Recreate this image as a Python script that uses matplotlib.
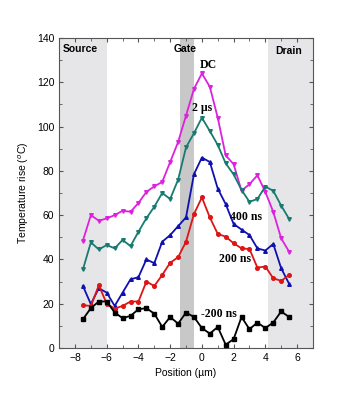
import numpy as np
import matplotlib.pyplot as plt
from matplotlib.ticker import MultipleLocator

'''Measured temperature rise along the channel for several pulse widths'''
position = np.arange(-7.5, 6.0, 0.5)          # um

dc = [48.5, 60, 57.5, 58.5, 60, 62, 61.5, 65.5, 70.5, 73, 75, 84, 93, 105,
      117, 124, 118, 104, 87, 83, 71, 74, 78, 70.5, 61.5, 49.5, 43.5]
t_2us = [35.5, 47.7, 44.5, 46.5, 45, 48.8, 46, 52.5, 58.6, 63.8, 70, 67.3, 76,
         90.6, 97, 104, 98, 91.7, 83.4, 78.4, 71.4, 66, 67.3, 72.9, 71, 64.3, 58.3]
t_400ns = [28, 19.8, 27, 25, 19, 25, 31, 32, 40, 38.3, 48, 51, 55, 59, 78.5,
           86, 84, 72, 65, 56, 53.5, 51, 45, 44, 47, 36, 29]
t_200ns = [19.3, 19, 28.3, 20, 17.8, 19, 21, 21, 30, 28, 33, 38.5, 41, 48,
           60.5, 68, 59, 51.5, 50.3, 47.3, 45, 44.7, 36.3, 36.8, 31.5, 30.3, 33]
t_m200ns = [13, 18, 21, 21, 16, 13.5, 14.5, 17.5, 18, 15.5, 9.5, 14, 11, 16,
            14, 9, 6.5, 9.5, 1.5, 4, 14, 8.5, 11.5, 9, 11.5, 16.5, 14]

series = [
    (dc,       '#dd22dd', 'v'),
    (t_2us,    '#187a70', 'v'),
    (t_400ns,  '#1010b0', '^'),
    (t_200ns,  '#dd1515', 'o'),
    (t_m200ns, '#000000', 's'),
]

curve_labels = [('DC', 0.4, 128), ('2 \u00b5s', 0.0, 108.5), ('400 ns', 2.8, 59),
                ('200 ns', 2.1, 40), ('-200 ns', 1.1, 15.5)]
region_labels = [('Source', -7.65, 135), ('Gate', -1.05, 135), ('Drain', 5.5, 134)]


def main():
    plt.rcParams['font.family'] = ['Liberation Sans', 'DejaVu Sans']
    fig = plt.figure(figsize=(3.5, 4.0), dpi=100)
    ax = fig.add_axes([0.169, 0.13, 0.725, 0.775])

    # device regions
    ax.axvspan(-9, -6, color='#e6e6e8', lw=0, zorder=0)
    ax.axvspan(4.2, 7, color='#e6e6e8', lw=0, zorder=0)
    ax.axvspan(-1.4, -0.5, color='#c8c8c8', lw=0, zorder=0)

    for values, colour, marker in series:
        ax.plot(position, values, color=colour, lw=1.3, marker=marker,
                markersize=2.6, zorder=3)

    for text, x, y in curve_labels:
        ax.text(x, y, text, ha='center', va='center', fontsize=8.5,
                fontweight='bold', family=['Liberation Serif', 'DejaVu Serif'])
    for text, x, y in region_labels:
        ax.text(x, y, text, ha='center', va='center', fontsize=7.5,
                fontweight='bold')

    ax.set_xlim(-9, 7)
    ax.set_ylim(0, 140)
    ax.xaxis.set_major_locator(MultipleLocator(2))
    ax.xaxis.set_minor_locator(MultipleLocator(1))
    ax.yaxis.set_major_locator(MultipleLocator(20))
    ax.yaxis.set_minor_locator(MultipleLocator(10))
    ax.tick_params(which='both', direction='in', top=True, right=True,
                   labelsize=7.5, color='#555555')
    ax.tick_params(which='major', length=3)
    ax.tick_params(which='minor', length=2)
    for spine in ax.spines.values():
        spine.set_color('#555555')

    ax.set_xlabel('Position (\u00b5m)', fontsize=7.5)
    ax.set_ylabel('Temperature rise ($^o$C)', fontsize=7.5)

    fig.savefig('out.png', dpi=100)


if __name__ == '__main__':
    main()
